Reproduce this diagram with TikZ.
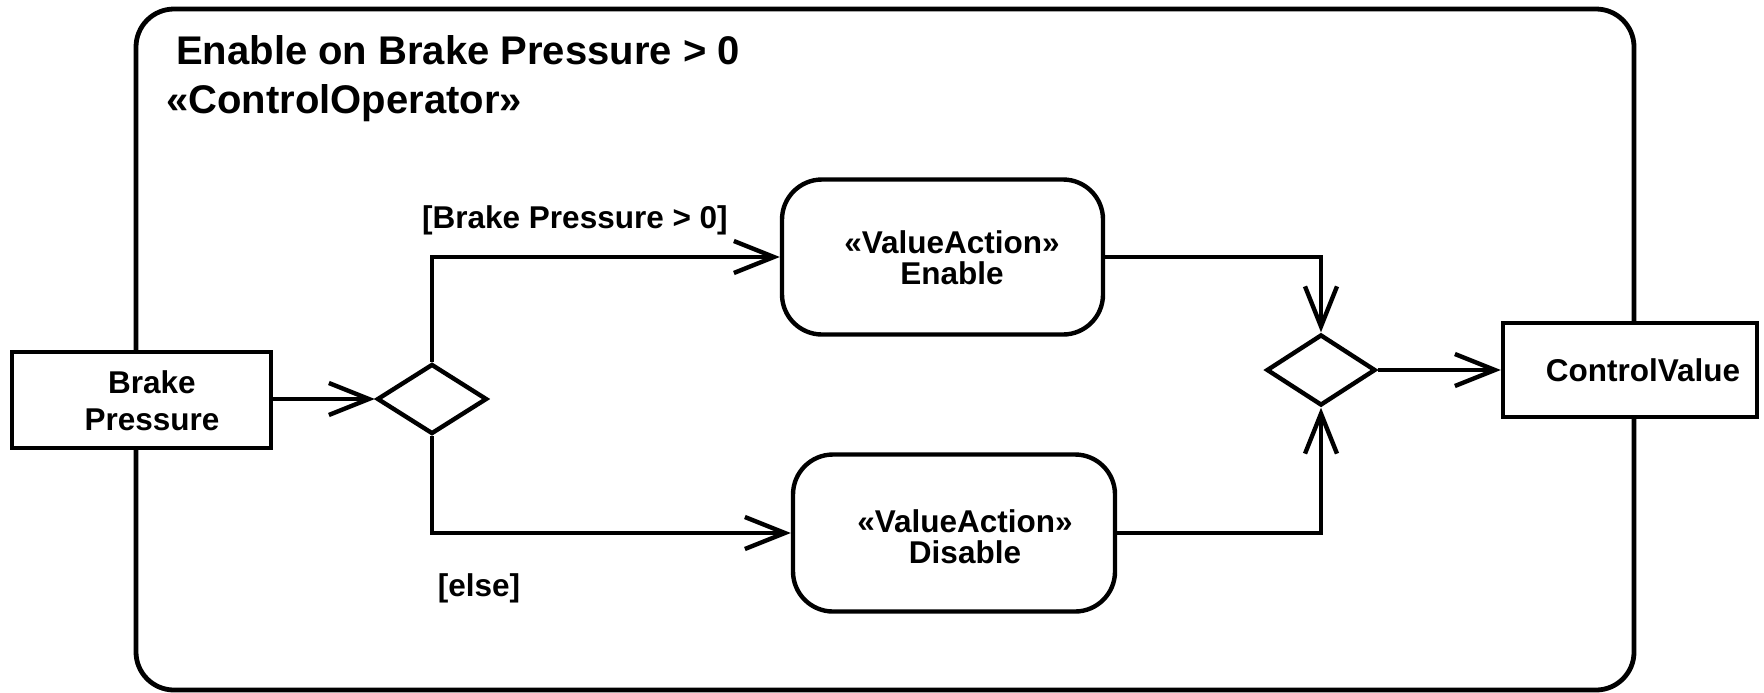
\documentclass[tikz,border=0pt]{standalone}
\usepackage{fontspec}
\setmainfont{Liberation Sans}
\usetikzlibrary{arrows.meta,shapes.geometric}
\begin{document}
\begin{tikzpicture}[x=0.5pt,y=-0.5pt,line width=2.2pt,
  txt/.style={font=\bfseries\fontsize{15.75}{15.5}\selectfont,inner sep=0pt,align=center},
  ttl/.style={font=\bfseries\fontsize{20}{24}\selectfont,inner sep=0pt,anchor=base west},
  pinbox/.style={draw,fill=white,rectangle,inner sep=0pt},
  actbox/.style={draw,fill=white,rectangle,rounded corners=20pt,inner sep=0pt},
  choice/.style={draw,fill=white,diamond,inner sep=0pt},
  flow/.style={-{Straight Barb[length=20pt,width=16pt]}}
]
\useasboundingbox (0,0) rectangle (1764,692);

% activity frame
\draw[line width=2.4pt,rounded corners=19pt] (136,9) rectangle (1634,690);
\node[ttl] (title) at (174,64) {Enable on Brake Pressure > 0};
\node[ttl] (stereo) at (164,113) {«ControlOperator»};

% input and output pins on the frame
\node[pinbox,minimum width=129.5pt,minimum height=48pt] (bp) at (141.5,400) {};
\node[txt,font=\bfseries\fontsize{15.75}{18.5}\selectfont] (bptext) at (152,401) {Brake\\Pressure};
\node[pinbox,minimum width=127pt,minimum height=47pt] (cv) at (1630,370) {};
\node[txt] (cvtext) at (1643,370) {ControlValue};

% decision and merge
\node[choice,minimum width=55pt,minimum height=35pt] (dec) at (432,399) {};
\node[choice,minimum width=54.5pt,minimum height=35.5pt] (merge) at (1321,370) {};

% value actions
\node[actbox,minimum width=160.5pt,minimum height=77.5pt] (en) at (942.5,257) {};
\node[txt] (entext) at (952,258) {«ValueAction»\\Enable};
\node[actbox,minimum width=161pt,minimum height=78.5pt] (dis) at (954,533) {};
\node[txt] (distext) at (965,537) {«ValueAction»\\Disable};

% guards
\node[txt] (g1) at (575,220) {[Brake Pressure > 0]};
\node[txt] (g2) at (479,588) {[else]};

% flows
\draw[flow] (bp.east |- dec.west) -- (dec.west);
\draw[flow] (dec.north) |- (en.west);
\draw[flow] (dec.south) |- (dis.west);
\draw[flow] (en.east) -| (merge.north);
\draw[flow] (dis.east) -| (merge.south);
\draw[flow] (merge.east) -- (cv.west);
\end{tikzpicture}
\end{document}
